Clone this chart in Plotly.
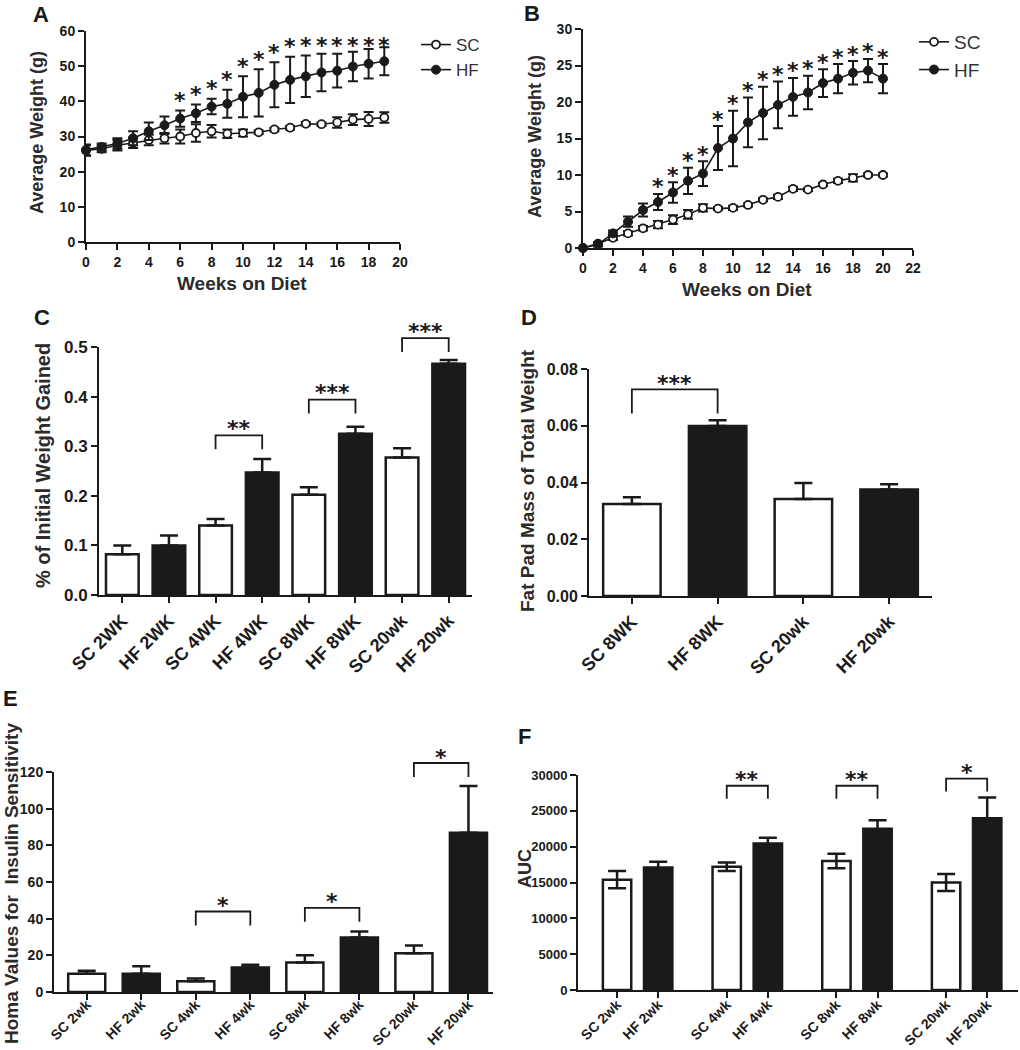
import plotly.graph_objects as go

FONT = "Liberation Sans"
STAR_FONT = "DejaVu Sans"
INK = "#1a1a1a"
W, H = 1020, 1050

# ---------------- data ----------------
weeks_A = list(range(20))
sc_A = [26.0, 26.5, 27.5, 28.2, 29.0, 29.5, 30.0, 31.0, 31.5, 30.8, 31.0, 31.2, 32.0, 32.5, 33.6, 33.5, 34.0, 34.8, 35.0, 35.4]
sc_A_err = [1.5, 1.0, 1.5, 1.5, 1.5, 1.5, 2.0, 2.5, 1.8, 1.2, 1.0, 0.5, 0.5, 0.5, 0.5, 0.5, 1.5, 1.5, 2.0, 1.5]
hf_A = [26.2, 27.0, 28.0, 29.5, 31.5, 33.2, 35.1, 36.6, 38.5, 39.3, 41.3, 42.4, 44.7, 46.1, 47.1, 48.2, 48.7, 49.9, 50.7, 51.4]
hf_A_err = [1.5, 1.0, 1.5, 2.0, 2.5, 2.5, 2.3, 2.5, 2.2, 4.0, 5.8, 6.7, 6.4, 6.6, 5.9, 5.3, 4.8, 4.2, 4.2, 4.0]
sig_A = list(range(6, 20))

weeks_B = list(range(21))
sc_B = [0.0, 0.6, 1.4, 2.0, 2.7, 3.2, 3.9, 4.6, 5.5, 5.4, 5.5, 5.9, 6.6, 7.0, 8.1, 8.0, 8.7, 9.2, 9.6, 10.0, 10.0]
sc_B_err = [0.1, 0.2, 0.3, 0.3, 0.3, 0.5, 0.6, 0.6, 0.5, 0.2, 0.3, 0.2, 0.2, 0.3, 0.3, 0.2, 0.2, 0.3, 0.5, 0.2, 0.2]
hf_B = [0.0, 0.5, 2.0, 3.6, 5.2, 6.3, 7.6, 9.2, 10.2, 13.7, 15.0, 17.2, 18.5, 19.6, 20.7, 21.3, 22.6, 23.2, 24.0, 24.3, 23.2]
hf_B_err = [0.1, 0.3, 0.4, 0.7, 0.9, 1.1, 1.4, 1.8, 1.7, 3.0, 3.8, 3.4, 3.6, 3.2, 2.6, 2.3, 1.9, 2.0, 1.6, 1.6, 2.0]
sig_B = list(range(5, 21))

cat_C = ["SC 2WK", "HF 2WK", "SC 4WK", "HF 4WK", "SC 8WK", "HF 8WK", "SC 20wk", "HF 20wk"]
val_C = [0.082, 0.100, 0.140, 0.247, 0.202, 0.325, 0.277, 0.466]
err_C = [0.018, 0.020, 0.013, 0.027, 0.015, 0.014, 0.019, 0.008]
sig_C = [(2, 3, "**"), (4, 5, "***"), (6, 7, "***")]
bracket_C = [0.322, 0.394, 0.518]

cat_D = ["SC 8WK", "HF 8WK", "SC 20wk", "HF 20wk"]
val_D = [0.0324, 0.0599, 0.0342, 0.0375]
err_D = [0.0024, 0.0020, 0.0056, 0.0019]
sig_D = [(0, 1, "***")]
bracket_D = [0.0728]

cat_E = ["SC 2wk", "HF 2wk", "SC 4wk", "HF 4wk", "SC 8wk", "HF 8wk", "SC 20wk", "HF 20wk"]
val_E = [10.0, 10.0, 5.8, 13.4, 16.1, 29.7, 21.2, 86.8]
err_E = [1.6, 4.0, 1.6, 1.5, 4.0, 3.3, 4.2, 25.6]
sig_E = [(2, 3, "*"), (4, 5, "*"), (6, 7, "*")]
bracket_E = [43.9, 45.9, 124.9]

cat_F = ["SC 2wk", "HF 2wk", "SC 4wk", "HF 4wk", "SC 8wk", "HF 8wk", "SC 20wk", "HF 20wk"]
val_F = [15400, 17100, 17200, 20450, 18000, 22500, 15000, 23950]
err_F = [1200, 800, 600, 800, 1000, 1200, 1200, 2900]
sig_F = [(2, 3, "**"), (4, 5, "**"), (6, 7, "*")]
bracket_F = [28500, 28500, 29500]

# ---------------- layout helpers ----------------
PANELS = {
    "A": dict(xd=(86, 400), yd=(31, 242), xr=[0, 20], yr=[0, 60]),
    "B": dict(xd=(583, 913), yd=(29, 248), xr=[0, 22], yr=[0, 30]),
    "C": dict(xd=(99, 472), yd=(347, 595), xr=[-0.5, 7.5], yr=[0, 0.5]),
    "D": dict(xd=(589, 932), yd=(369, 596), xr=[-0.5, 3.5], yr=[0, 0.08]),
    "E": dict(xd=(54, 493), yd=(772, 992), xr=[-0.6, 7.45], yr=[0, 120]),
    "F": dict(xd=(578, 1018), yd=(775, 990), xr=[-0.95, 9.75], yr=[0, 30000]),
}
AX = {"A": "", "B": "2", "C": "3", "D": "4", "E": "5", "F": "6"}


def px_x(p, x):
    c = PANELS[p]
    return c["xd"][0] + (x - c["xr"][0]) / (c["xr"][1] - c["xr"][0]) * (c["xd"][1] - c["xd"][0])


def px_y(p, y):
    c = PANELS[p]
    return c["yd"][1] - (y - c["yr"][0]) / (c["yr"][1] - c["yr"][0]) * (c["yd"][1] - c["yd"][0])


def to_paper(px, py):
    return px / W, 1 - py / H


fig = go.Figure()

# ---------------- line panels A, B ----------------
def add_lines(p, weeks, sc, sc_err, hf, hf_err, legend):
    n = AX[p]
    fig.add_trace(go.Scatter(
        x=weeks, y=sc, name="SC", mode="lines+markers",
        line=dict(color=INK, width=1.6),
        marker=dict(symbol="circle", size=8, color="white", line=dict(color=INK, width=1.8)),
        error_y=dict(type="data", array=sc_err, color=INK, thickness=2, width=5),
        xaxis="x" + n, yaxis="y" + n, cliponaxis=False, legend=legend))
    fig.add_trace(go.Scatter(
        x=weeks, y=hf, name="HF", mode="lines+markers",
        line=dict(color=INK, width=1.6),
        marker=dict(symbol="circle", size=9, color=INK, line=dict(color=INK, width=1)),
        error_y=dict(type="data", array=hf_err, color=INK, thickness=2, width=5),
        xaxis="x" + n, yaxis="y" + n, cliponaxis=False, legend=legend))


add_lines("A", weeks_A, sc_A, sc_A_err, hf_A, hf_A_err, "legend")
add_lines("B", weeks_B, sc_B, sc_B_err, hf_B, hf_B_err, "legend2")

annotations = []
shapes = []

STAR_SIZE = 22
STAR_DROP = 5  # asterisk glyph sits high in its text box


def star_px(px, py, text):
    """Place asterisk text so that the glyph's centre lands on pixel (px, py)."""
    x, y = to_paper(px, py)
    annotations.append(dict(
        x=x, y=y, xref="paper", yref="paper", text=text, showarrow=False,
        xanchor="center", yanchor="middle", yshift=-STAR_DROP,
        font=dict(family=STAR_FONT, size=STAR_SIZE, color=INK, weight="bold")))


for w in sig_A:
    top_px = px_y("A", hf_A[w] + hf_A_err[w])
    star_px(px_x("A", w), max(top_px - 15, px_y("A", 57.2)), "*")

for w in sig_B:
    top_px = px_y("B", hf_B[w] + hf_B_err[w])
    star_px(px_x("B", w), top_px - 12, "*")

# ---------------- bar panels ----------------
def add_bars(p, xs, vals, errs, cats, bw, symmetric):
    n = AX[p]
    colors = ["white" if c.startswith("SC") else INK for c in cats]
    fig.add_trace(go.Bar(
        x=xs, y=vals, width=bw, showlegend=False,
        marker=dict(color=colors, line=dict(color=INK, width=2.5)),
        error_y=dict(type="data", array=errs,
                     arrayminus=errs if symmetric else [0] * len(errs),
                     symmetric=symmetric, color=INK, thickness=2.5, width=9),
        xaxis="x" + n, yaxis="y" + n, cliponaxis=False))


def add_brackets(p, xs, sigs, levels, leg_px, gap_px):
    for (i, j, txt), lvl in zip(sigs, levels):
        x0, x1 = px_x(p, xs[i]), px_x(p, xs[j])
        yt = px_y(p, lvl)
        yb = yt + leg_px
        pts = [to_paper(x0, yb), to_paper(x0, yt), to_paper(x1, yt), to_paper(x1, yb)]
        path = "M " + " L ".join(f"{a:.5f},{b:.5f}" for a, b in pts)
        shapes.append(dict(type="path", xref="paper", yref="paper", path=path,
                           line=dict(color=INK, width=1.8)))
        star_px((x0 + x1) / 2, yt - gap_px, txt)


xs_C = list(range(len(cat_C)))
xs_D = list(range(len(cat_D)))
xs_E = list(range(len(cat_E)))
xs_F = [(k // 2) * 2.667 + (k % 2) for k in range(len(cat_F))]

add_bars("C", xs_C, val_C, err_C, cat_C, 0.7, False)
add_bars("D", xs_D, val_D, err_D, cat_D, 0.67, False)
add_bars("E", xs_E, val_E, err_E, cat_E, 0.68, False)
add_bars("F", xs_F, val_F, err_F, cat_F, 0.69, True)

add_brackets("C", xs_C, sig_C, bracket_C, 14, 12)
add_brackets("D", xs_D, sig_D, bracket_D, 24, 11)
add_brackets("E", xs_E, sig_E, bracket_E, 14, 11)
add_brackets("F", xs_F, sig_F, bracket_F, 13, 11)

# ---------------- axes ----------------
def axis_common(size):
    return dict(showline=True, linecolor=INK, linewidth=2, ticks="outside", ticklen=6,
                tickwidth=2, tickcolor=INK, showgrid=False, zeroline=False, automargin=False,
                tickfont=dict(family=FONT, size=size, color=INK, weight="bold"))


layout_axes = {}


def set_axes(p, xkw, ykw, xsize, ysize):
    n = AX[p]
    c = PANELS[p]
    xa = axis_common(xsize)
    xa.update(domain=[c["xd"][0] / W, c["xd"][1] / W], range=c["xr"], anchor="y" + n)
    xa.update(xkw)
    ya = axis_common(ysize)
    ya.update(domain=[1 - c["yd"][1] / H, 1 - c["yd"][0] / H], range=c["yr"], anchor="x" + n)
    ya.update(ykw)
    layout_axes["xaxis" + n] = xa
    layout_axes["yaxis" + n] = ya


set_axes("A", dict(dtick=2, tick0=0), dict(dtick=10, tick0=0), 14, 14)
set_axes("B", dict(dtick=2, tick0=0), dict(dtick=5, tick0=0), 14, 14)
set_axes("C", dict(tickmode="array", tickvals=xs_C, ticktext=cat_C, tickangle=-45),
         dict(dtick=0.1, tick0=0, tickformat=".1f"), 18, 17)
set_axes("D", dict(tickmode="array", tickvals=xs_D, ticktext=cat_D, tickangle=-45),
         dict(dtick=0.02, tick0=0, tickformat=".2f"), 18, 16)
set_axes("E", dict(tickmode="array", tickvals=xs_E, ticktext=cat_E, tickangle=-45,
                   ticklabelstandoff=-9),
         dict(dtick=20, tick0=0), 14, 14)
set_axes("F", dict(tickmode="array", tickvals=xs_F, ticktext=cat_F, tickangle=-45,
                   ticklabelstandoff=-7),
         dict(dtick=5000, tick0=0, tickformat="d"), 14, 13)

# ---------------- text ----------------
def paper_text(text, px, py, size, angle=0, bold=True, color=INK):
    x, y = to_paper(px, py)
    annotations.append(dict(
        x=x, y=y, xref="paper", yref="paper", text=text, showarrow=False,
        xanchor="center", yanchor="middle", textangle=angle,
        font=dict(family=FONT, size=size, color=color, weight="bold" if bold else "normal")))


for letter, (px, py) in {"A": (41, 15), "B": (532, 14), "C": (42, 317),
                         "D": (529, 317), "E": (10, 698), "F": (524, 736)}.items():
    paper_text(letter, px, py, 22)

TITLE = "#2b2b2b"
paper_text("Average Weight (g)", 37, 133, 18, -90, color=TITLE)
paper_text("Weeks on Diet", 242, 283, 19, color=TITLE)
paper_text("Average Weight (g)", 535, 137, 18, -90, color=TITLE)
paper_text("Weeks on Diet", 747, 289, 19, color=TITLE)
paper_text("% of Initial Weight Gained", 43, 466, 20, -90, color=TITLE)
paper_text("Fat Pad Mass of Total Weight", 527, 481, 19, -90, color=TITLE)
paper_text("Homa Values for  Insulin Sensitivity", 11, 884, 19, -90, color=TITLE)
paper_text("AUC", 525, 869, 18, -90, color=TITLE)

legend_common = dict(xanchor="left", yanchor="top", bgcolor="rgba(0,0,0,0)",
                     tracegroupgap=0, itemwidth=30)

fig.update_layout(
    width=W, height=H, autosize=False,
    margin=dict(l=0, r=0, t=0, b=0, autoexpand=False),
    paper_bgcolor="white", plot_bgcolor="white",
    font=dict(family=FONT, color=INK),
    showlegend=True,
    legend=dict(x=416 / W, y=1 - 27 / H, font=dict(family=FONT, size=17, color="#333", weight="normal"),
                **legend_common),
    legend2=dict(x=914 / W, y=1 - 23 / H, font=dict(family=FONT, size=19, color="#333", weight="normal"),
                 **legend_common),
    annotations=annotations,
    shapes=shapes,
    **layout_axes,
)

# the page's default 8px body margin would push the figure off its intended pixel grid
fig.write_html("out.html", config={"displayModeBar": False},
               post_script="document.body.style.margin='0';")
